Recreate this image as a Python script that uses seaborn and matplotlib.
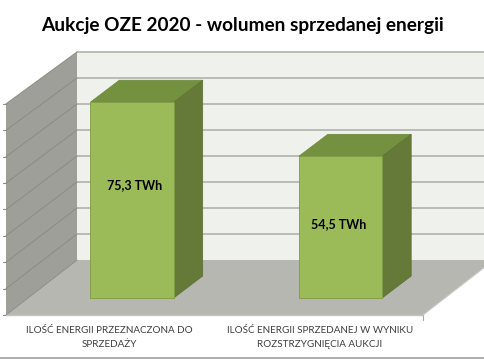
import matplotlib
matplotlib.use("Agg")
import matplotlib.pyplot as plt
from matplotlib.patches import Polygon
import seaborn as sns

title = "Aukcje OZE 2020 - wolumen sprzedanej energii"
categories = ["ILOŚĆ ENERGII PRZEZNACZONA DO\nSPRZEDAŻY",
              "ILOŚĆ ENERGII SPRZEDANEJ W WYNIKU\nROZSTRZYGNIĘCIA AUKCJI"]
values = [75.3, 54.5]
value_labels = ["75,3 TWh", "54,5 TWh"]
grid_values = [0, 10, 20, 30, 40, 50, 60, 70, 80]

sns.set_theme(style="white")
plt.rcParams["font.family"] = ["Lato", "DejaVu Sans"]

fig = plt.figure(figsize=(4.85, 3.6), dpi=100)
ax = fig.add_axes([0, 0, 1, 1])

# skala: 208.5 px na kategorie, 2.6 px na TWh
px_x = 208.5
px_y = 2.6

sns.barplot(x=categories, y=values, width=0.4, color="#9bbb59", saturation=1,
            edgecolor="#7f9a45", linewidth=0.6, ax=ax, zorder=5)
ax.set_xlim(-132 / px_x, 353 / px_x)
ax.set_ylim(-62 / px_y, 298 / px_y)
ax.set_axis_off()

# sciany i podloga
x_l = -126 / px_x
x_r = 291 / px_x
y_f = -17 / px_y
wall_dx = 71 / px_x
wall_dy = 55 / px_y
front_k = 1.015
top = max(grid_values)

ax.add_patch(Polygon([(x_l + wall_dx, y_f + wall_dy), (2, y_f + wall_dy), (2, y_f + wall_dy + top),
                      (x_l + wall_dx, y_f + wall_dy + top)], fc="#eff1ec", ec="none", zorder=1))
ax.add_patch(Polygon([(x_l, y_f), (x_l + wall_dx, y_f + wall_dy), (x_l + wall_dx, y_f + wall_dy + top),
                      (x_l, y_f + top * front_k)], fc="#9d9f98", ec="none", zorder=1))
ax.add_patch(Polygon([(x_l, y_f), (x_r, y_f), (x_r + wall_dx, y_f + wall_dy),
                      (x_l + wall_dx, y_f + wall_dy)], fc="#b5b7b0", ec="none", zorder=2))

for v in grid_values:
    back_y = y_f + wall_dy + v
    front_y = y_f + v * front_k
    if v > 0:
        ax.plot([x_l + wall_dx, 2], [back_y, back_y], color="#b0b2ac", lw=1.2, zorder=2)
    ax.plot([x_l, x_l + wall_dx], [front_y, back_y], color="#8a8c85", lw=0.7, zorder=2)
    ax.plot([x_l - 3 / px_x, x_l], [front_y, front_y], color="#8a8c85", lw=0.8, zorder=2)

ax.plot([x_l, x_r], [y_f, y_f], color="#c4c5c0", lw=1, zorder=3)
ax.plot([x_r, x_r], [y_f, y_f - 5 / px_y], color="#a6a8a2", lw=0.8, zorder=3)
ax.plot([x_r, x_r + wall_dx], [y_f, y_f + wall_dy], color="#c9cac6", lw=0.8, zorder=3)

# glebokosc slupkow
bar_dx = 29 / px_x
bar_dy = 22 / px_y
for bar in list(ax.patches):
    if not hasattr(bar, "get_width"):
        continue
    x0 = bar.get_x()
    x1 = x0 + bar.get_width()
    h = bar.get_height()
    ax.add_patch(Polygon([(x0, h), (x1, h), (x1 + bar_dx, h + bar_dy), (x0 + bar_dx, h + bar_dy)],
                         fc="#749140", ec="#6c873b", lw=0.5, zorder=4))
    ax.add_patch(Polygon([(x1, 0), (x1 + bar_dx, bar_dy), (x1 + bar_dx, h + bar_dy), (x1, h)],
                         fc="#657a38", ec="#5c7033", lw=0.5, zorder=4))

# opisy
label_y = [43.3, 28.5]
for i, txt in enumerate(value_labels):
    ax.text(i + (0.012 if i == 0 else -0.007), label_y[i], txt, ha="center", va="center",
            fontsize=9, fontweight="bold", color="black", zorder=6)

label_x = [-0.108, 0.9]
for i, txt in enumerate(categories):
    ax.text(label_x[i], -10.7, txt, ha="center", va="top", fontsize=7.1,
            color="#404040", linespacing=1.7, zorder=6)

ax.text(110 / px_x, 273 / px_y, title, ha="center", va="center",
        fontsize=13.7, fontweight="bold", color="black")

ax.axhline(-60 / px_y, color="#a0a0a0", lw=1.2, zorder=3)

fig.savefig("out.png", dpi=100)
